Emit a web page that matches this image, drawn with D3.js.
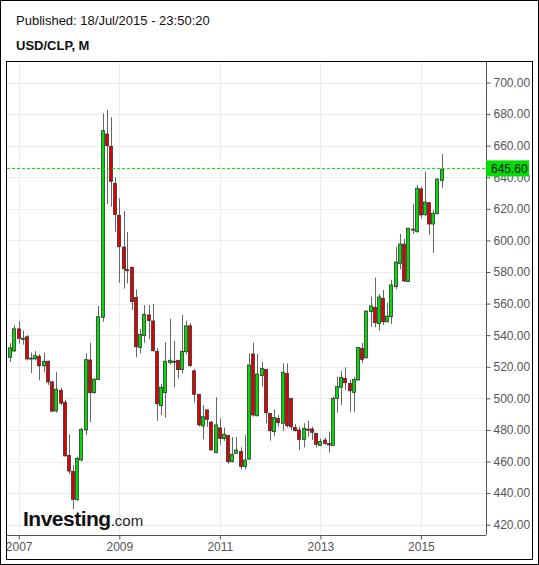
<!DOCTYPE html>
<html><head><meta charset="utf-8">
<script src="https://cdn.jsdelivr.net/npm/d3@7"></script>
<style>body{margin:0;background:#fff}svg{display:block}</style>
</head><body><svg id="c" width="539" height="565"></svg>
<script>
const startMonth = "2006-11";
const opens  = [526,530,544,538,539,525,525,526.5,520.6,523.5,510.4,492,505,497.5,463.8,453.7,436,461,480,524.3,503.6,512,551.3,667.4,659.6,636.2,615.9,595.8,581.6,583,563.9,532.3,539.7,552.8,549,529.7,495.4,503.6,522.6,523.5,524.1,518.2,529.6,545.9,517.4,502.6,482.5,492.7,484.9,465.6,481.3,474.5,476.6,459.9,465.2,466.3,456.8,461.6,528.1,489,514.4,518.4,490.5,478.9,487.3,484.2,515.8,500,481.6,480,474,480.5,480.6,477.9,470.2,473.6,471.5,470.2,500,507,512.7,509.5,503.8,511.6,531.7,525.7,554.9,557.6,547.3,563.3,548.5,551.7,570.7,585.4,597.7,573.9,607.2,605.5,632.6,616.3,623.9,610.4,616.9,638];
const closes = [532,544,538,538,525,525.5,527,520.6,523.5,510.4,491.9,505.8,497,463.6,454,436,461.9,480.3,524.5,503.6,512.1,551.7,669.5,660,637.4,616.5,596,582,580.8,561.2,532.7,540.5,553.2,549.3,530.2,496.6,507,523.5,524.1,523.4,518.2,529.8,545.9,520.7,502.6,483.2,488.4,486.8,467.3,483.2,474.7,477.3,459.9,464.6,467.3,456.8,461,521.1,489.5,515.4,519,490.9,479.5,487.9,484.6,516.5,482.7,482,479.5,474,481,480.4,478.5,470.9,472.7,471.5,470.5,500,507.4,513.3,509.9,504.8,512,532.3,524.7,555.3,558.5,547.9,564.2,548.5,552.1,571.8,586.3,597.7,574.3,607.7,607,633,616.1,624.3,610.4,617.2,638.9,645.2];
const highs  = [535,546.3,548.9,543,540,529,530,528,529,524,511,516.6,506.6,499,477.3,457.7,463,481.5,528.5,535.2,513,558.5,680.5,682.6,678,640,626.6,618.6,605.3,583.4,569,544,559,559,559.8,531.7,509.1,535.5,550.3,536.4,524.3,552.8,549.2,547.6,518.6,502.6,495.8,492.7,485.7,500.7,487.4,481.5,476.6,475.6,475.6,469,476.8,528.5,535.3,528.1,523.2,518.4,490.5,493,489.4,522.2,522.2,500,483.7,482,484.2,485.9,482,477.9,474.7,475.3,478.9,501.1,513.7,517.3,519.6,511.6,513.7,532.3,535.2,555.5,564.4,576.4,566.1,568.6,560.6,575,596,604.1,600.9,608,623.1,635.1,634,643.5,623.9,619.3,639.2,654.7];
const lows   = [523.1,529.4,534.7,534,524,516,524,511.5,516.6,508.5,491.4,491,495.7,463,452,430,435,460,476.8,485,502.8,511.6,548.5,623,621.4,605.5,573.2,569.5,572.8,556,526,528.5,535.2,537.4,529.6,485.8,489.5,487.8,521.2,507,512.7,515.9,527.9,520,497.3,482.1,474.1,482,467.3,465.2,470.5,473,458.5,459.5,465,455,455,461,488.4,488.5,507.4,484.2,473.2,476.2,482,479.5,481.4,480,479,467.3,469,475.7,473.6,469,470,470.5,465.6,470,490.9,495.8,505.3,491.5,491.5,511.2,522.2,525.3,545.4,545,542.8,546.4,548,547.1,569.2,581.7,573.9,573.6,604.1,605,614,615.5,603.4,592.2,616.5,633.4];
const yTicks = [420,440,460,480,500,520,540,560,580,600,620,640,660,680,700];
const xTickYears = [2007,2009,2011,2013,2015];
const lastPrice = 645.60;
const pubText = "Published: 18/Jul/2015 - 23:50:20";
const titleText = "USD/CLP, M";

const [sy, sm] = startMonth.split("-").map(Number);
const data = opens.map((o,i)=>({date:new Date(sy, sm-1+i, 1), o, c:closes[i], h:highs[i], l:lows[i]}));

const svg = d3.select("#c");
svg.append("rect").attr("x",0.5).attr("y",0.5).attr("width",538).attr("height",564).attr("fill","#fff").attr("stroke","#000");
svg.append("rect").attr("x",6.5).attr("y",61.5).attr("width",526).attr("height",498).attr("fill","none").attr("stroke","#000");
svg.append("text").attr("x",16).attr("y",25).attr("font-family","Liberation Sans, Arial").attr("font-size",13).attr("fill","#111").text(pubText);
svg.append("text").attr("x",16).attr("y",50).attr("font-family","Liberation Sans, Arial").attr("font-size",13).attr("font-weight","bold").attr("fill","#111").text(titleText);

const L=7, R=486, T=62, B=535;
const x = d3.scaleTime().domain([data[0].date, data[data.length-1].date]).range([10.3, 441.7]);
const y = d3.scaleLinear().domain([420,700]).range([524.7, 82.5]);

// grid
const g = svg.append("g");
g.selectAll(".hg").data(yTicks).join("line").attr("x1",L).attr("x2",R).attr("y1",d=>Math.round(y(d))+0.5).attr("y2",d=>Math.round(y(d))+0.5).attr("stroke","#ececec");
const xt = xTickYears.map(yr=>new Date(yr,0,1));
g.selectAll(".vg").data(xt).join("line").attr("y1",T).attr("y2",B).attr("x1",d=>Math.round(x(d))+0.5).attr("x2",d=>Math.round(x(d))+0.5).attr("stroke","#ececec");

// logo
const logo = svg.append("text").attr("x",23).attr("y",526).attr("font-family","Liberation Sans, Arial");
logo.append("tspan").attr("font-size",21).attr("font-weight","bold").attr("fill","#111").attr("letter-spacing","-0.5").text("Investing");
logo.append("tspan").attr("font-size",15).attr("fill","#222").text(".com");

// candles
const cg = svg.append("g");
cg.selectAll(".w").data(data).join("line").attr("x1",d=>Math.round(x(d.date))+0.5).attr("x2",d=>Math.round(x(d.date))+0.5)
  .attr("y1",d=>y(d.h)).attr("y2",d=>y(d.l)).attr("stroke","#666").attr("stroke-width",1);
cg.selectAll(".b").data(data).join("rect").attr("x",d=>Math.round(x(d.date))-1.5).attr("width",3)
  .attr("y",d=>y(Math.max(d.o,d.c))).attr("height",d=>Math.max(1,Math.abs(y(d.o)-y(d.c))))
  .attr("fill",d=>d.c>=d.o?"#00dd00":"#e00000").attr("stroke","#333").attr("stroke-width",0.8);

// last price line
svg.append("line").attr("x1",L).attr("x2",R).attr("y1",y(lastPrice)).attr("y2",y(lastPrice)).attr("stroke","#00dd00").attr("stroke-dasharray","3,2");

// axes
const ya = svg.append("g").attr("transform",`translate(${R+0.5},0)`).call(d3.axisRight(y).tickValues(yTicks).tickFormat(d3.format(".2f")).tickSize(4).tickPadding(3));
ya.select(".domain").attr("d",`M0,${T}V${B}`).attr("stroke","#555");
ya.selectAll("line").attr("stroke","#555");
ya.selectAll("text").attr("font-family","Liberation Sans, Arial").attr("font-size",12).attr("fill","#555");
const xa = svg.append("g").attr("transform",`translate(0,${B+0.5})`).call(d3.axisBottom(x).tickValues(xt).tickFormat(d3.timeFormat("%Y")).tickSize(4).tickPadding(3));
xa.select(".domain").attr("d",`M${L},0H${R}`).attr("stroke","#555");
xa.selectAll("line").attr("stroke","#555");
xa.selectAll("text").attr("font-family","Liberation Sans, Arial").attr("font-size",12).attr("fill","#555");

// price tag
const py = y(lastPrice);
svg.append("rect").attr("x",R).attr("y",py-8).attr("width",43).attr("height",16).attr("fill","#00dd00");
svg.append("text").attr("x",R+5).attr("y",py+4.5).attr("font-family","Liberation Sans, Arial").attr("font-size",12).attr("fill","#111").text(lastPrice.toFixed(2));
</script></body></html>
